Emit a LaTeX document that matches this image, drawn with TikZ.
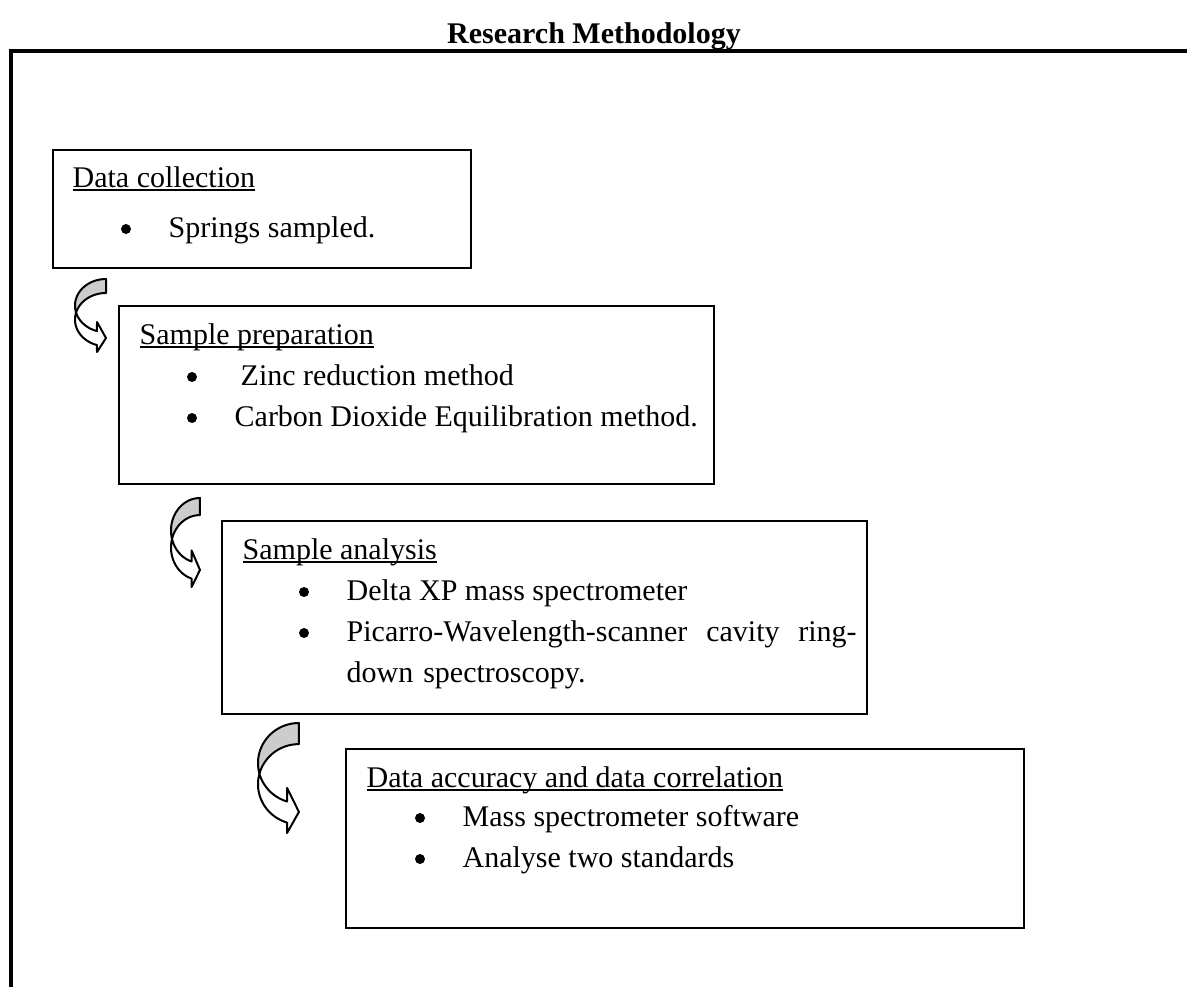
\documentclass[tikz,border=0pt]{standalone}
\usepackage{fontspec}
\setmainfont{Liberation Serif}
\usepackage{tikz}
\usetikzlibrary{positioning}

% underline at a fixed depth, as a word processor does
\newcommand{\ulabel}[1]{\setbox0\hbox{#1}\rlap{\rule[-1.1pt]{\wd0}{0.55pt}}\box0}

% twisted curved arrow, drawn for a 31 x 73 box and scaled to fit
\newcommand{\turnarrow}[3]{%
  \begin{scope}[shift={#1}, xscale=#2, yscale=#3]
    \filldraw[turnback] plot[domain=270:164.75, samples=40] ({31+31*cos(\x)},{26.6+26.6*sin(\x)})
      -- plot[domain=195.25:270, samples=40] ({31+31*cos(\x)},{40.6+26.6*sin(\x)}) -- cycle;
    \filldraw[turnfront] plot[domain=195.25:106.9, samples=40] ({31+31*cos(\x)},{40.6+26.6*sin(\x)})
      -- (22,73) -- (31,59) -- (22,43)
      -- plot[domain=106.9:164.75, samples=40] ({31+31*cos(\x)},{26.6+26.6*sin(\x)}) -- cycle;
  \end{scope}}

\begin{document}
\begin{tikzpicture}[x=0.3pt, y=-0.3pt,
    box/.style={draw, line width=0.6pt, anchor=north west, inner sep=0pt},
    txt/.style={anchor=base west, inner sep=0pt, font=\fontsize{9}{12.3}\selectfont},
    dot/.style={circle, fill, inner sep=0pt, minimum size=3pt},
    turnback/.style={line width=0.6pt, line join=round, fill=black!20},
    turnfront/.style={line width=0.6pt, line join=round, fill=white}]

  \useasboundingbox (0,0) rectangle (1187,987);

  % title and frame
  \node[anchor=base, inner sep=0pt, font=\bfseries\fontsize{9}{12.3}\selectfont] (title) at (594,43) {Research Methodology};
  \draw[line width=1.2pt] (11,987) -- (11,51) -- (1187,51);

  % data collection
  \node[box, minimum width=125.4pt, minimum height=35.4pt] (dc) at (52,149) {};
  \node[txt] (dcl) at (72,187) {\ulabel{Data collection}};
  \node[dot] (dcb) at (126,229) {};
  \node[txt] (dct) at (168,237) {Springs sampled.};

  % sample preparation
  \node[box, minimum width=178.5pt, minimum height=53.4pt] (sp) at (118,305) {};
  \node[txt] (spl) at (139,344) {\ulabel{Sample preparation}};
  \node[dot] (spb1) at (192,377) {};
  \node[txt] (spt1) at (240,385) {Zinc reduction method};
  \node[dot] (spb2) at (192,418) {};
  \node[txt] (spt2) at (234,426) {Carbon Dioxide Equilibration method.};

  % sample analysis
  \node[box, minimum width=193.5pt, minimum height=57.9pt] (sa) at (221,520) {};
  \node[txt] (sal) at (242,559) {\ulabel{Sample analysis}};
  \node[dot] (sab1) at (304,592) {};
  \node[txt] (sat1) at (346,600) {Delta XP mass spectrometer};
  \node[dot] (sab2) at (304,633) {};
  \node[txt, text width=153pt, align=left] (sat2) at (346,641)
    {Picarro-Wavelength-scanner\hfill cavity\hfill ring-\\down spectroscopy.};

  % data accuracy
  \node[box, minimum width=203.4pt, minimum height=53.7pt] (da) at (345,748) {};
  \node[txt] (dal) at (366,787) {\ulabel{Data accuracy and data correlation}};
  \node[dot] (dab1) at (420,818) {};
  \node[txt] (dat1) at (462,826) {Mass spectrometer software};
  \node[dot] (dab2) at (420,859) {};
  \node[txt] (dat2) at (462,867) {Analyse two standards};

  % arrows between the steps
  \turnarrow{(75,279)}{1}{1}
  \turnarrow{(171,498)}{0.935}{1.219}
  \turnarrow{(258,723)}{1.32}{1.507}

\end{tikzpicture}
\end{document}
